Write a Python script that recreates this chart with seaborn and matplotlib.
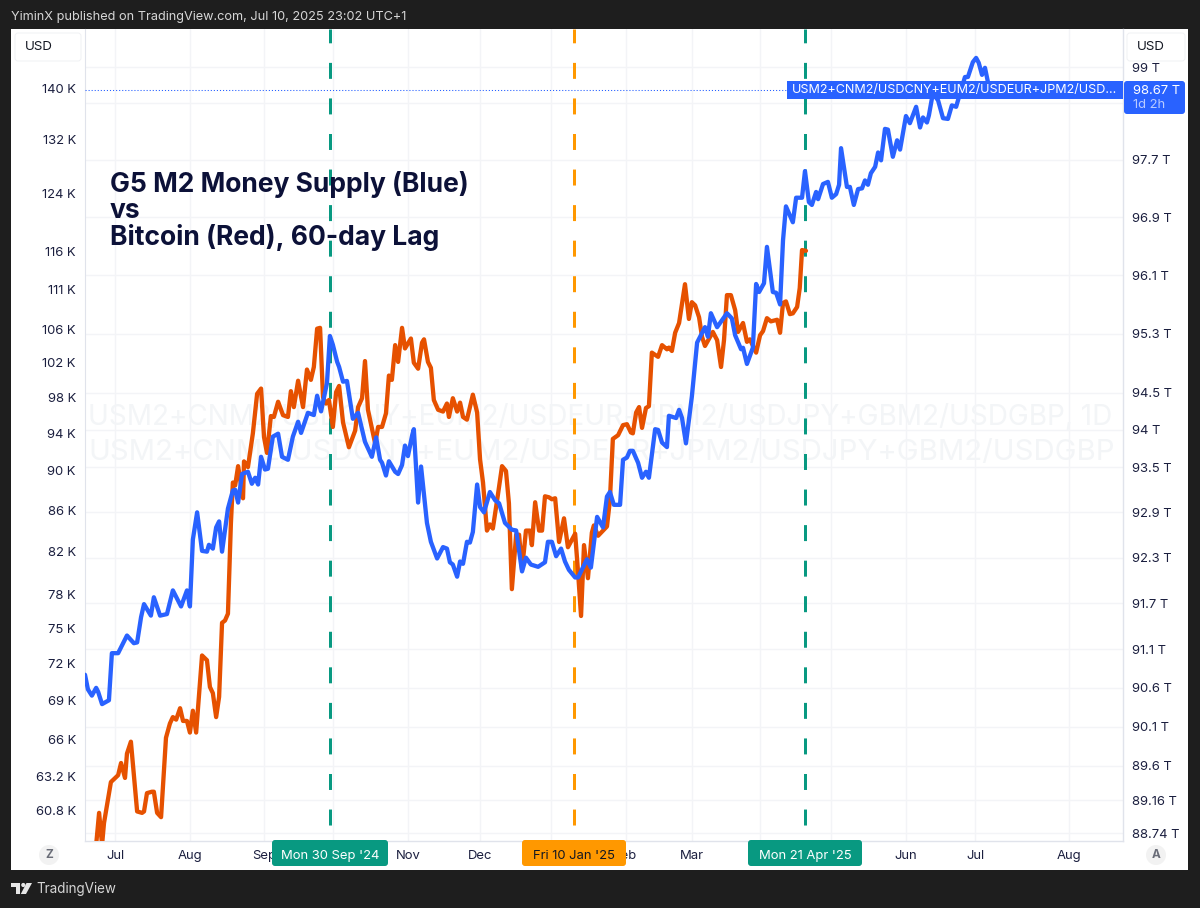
import matplotlib
matplotlib.use('Agg')
import matplotlib.pyplot as plt
from matplotlib.patches import Rectangle, FancyBboxPatch, Circle, Polygon
from matplotlib.ticker import FixedLocator, FixedFormatter, NullLocator
import seaborn as sns

# G5 M2 (T USD), x is the trading session counted from the left edge
m2_sessions = [0, 0.9, 2.1, 3.4, 4.0, 5.2, 7.3, 8.2, 10.1, 12.8, 14.9, 15.9, 17.1, 18.0, 20.1, 21.0, 22.9, 25.0, 26.8, 29.3,
               31.1, 32.0, 32.9, 34.2, 35.7, 37.2, 37.8, 39.0, 40.0, 40.9, 41.8, 43.6, 45.1, 45.8, 46.7, 47.9, 49.7, 50.9, 51.9, 52.8,
               53.7, 54.9, 55.8, 57.3, 58.9, 60.1, 61.9, 63.4, 65.0, 65.9, 68.0, 69.8, 70.8, 72.0, 73.8, 74.7, 75.6, 76.9, 77.5, 78.7,
               79.9, 81.7, 83.3, 85.4, 87.5, 88.8, 90.0, 90.6, 91.8, 92.7, 94.6, 95.5, 96.7, 97.6, 98.5, 99.8, 100.3, 101.6, 102.5, 104.3,
               105.5, 107.4, 109.2, 110.4, 111.3, 112.2, 113.5, 114.4, 115.3, 116.5, 117.4, 118.3, 119.6, 120.5, 121.7, 123.5, 125.1, 126.3, 128.1, 130.2,
               131.5, 133.3, 134.5, 136.0, 138.2, 140.3, 141.2, 142.4, 143.7, 145.2, 146.4, 147.6, 149.5, 150.4, 153.1, 154.3, 156.2, 158.0, 159.2, 160.1,
               161.3, 163.2, 164.1, 165.3, 166.2, 167.1, 168.7, 169.9, 171.1, 172.0, 173.9, 174.8, 176.0, 177.5, 178.1, 180.3, 181.2, 182.1, 183.3, 185.1,
               186.7, 189.1, 190.0, 190.9, 192.8, 195.8, 197.3, 198.3, 200.1, 200.7, 201.9, 203.7, 204.7, 205.6, 207.1, 208.0, 209.8, 210.8, 212.0, 212.9,
               213.8, 215.9, 216.9, 218.7, 219.6, 220.8, 221.7, 223.0, 223.6, 225.1, 226.6, 227.8, 229.1, 230.0, 230.6, 232.4, 233.3, 234.5, 235.8, 237.0,
               237.9, 238.8, 239.7, 241.0, 241.9, 242.8, 244.0, 244.9, 246.4, 247.7, 248.6, 250.4, 251.6, 253.5, 254.7, 255.6, 256.8, 257.4, 258.6, 260.2,
               261.7, 263.2, 264.4, 265.7, 266.9, 268.4, 269.3, 270.8, 271.8, 272.6, 273.6, 274.5, 275.4, 276.3]
m2_values = [90.77, 90.58, 90.50, 90.60, 90.55, 90.39, 90.44, 91.05, 91.05, 91.28, 91.18, 91.19, 91.52, 91.69, 91.54, 91.78, 91.54, 91.56, 91.87, 91.66,
             91.87, 91.66, 92.54, 92.90, 92.39, 92.38, 92.47, 92.42, 92.70, 92.78, 92.38, 92.95, 93.19, 93.20, 93.03, 93.41, 93.44, 93.28, 93.36, 93.27,
             93.64, 93.47, 93.48, 93.91, 93.95, 93.64, 93.60, 93.91, 94.11, 93.96, 94.23, 94.20, 94.46, 94.25, 94.63, 95.27, 95.15, 94.92, 94.85, 94.65,
             94.66, 94.15, 94.23, 93.84, 93.64, 93.90, 93.60, 93.56, 93.39, 93.58, 93.44, 93.41, 93.53, 93.79, 93.65, 93.93, 94.01, 93.03, 93.51, 92.76,
             92.51, 92.29, 92.44, 92.42, 92.24, 92.21, 92.05, 92.25, 92.22, 92.51, 92.50, 92.64, 93.27, 92.97, 92.90, 93.17, 93.06, 93.02, 92.76, 92.67,
             92.66, 92.12, 92.30, 92.21, 92.18, 92.24, 92.51, 92.51, 92.32, 92.42, 92.25, 92.14, 92.04, 92.04, 92.28, 92.17, 92.84, 92.70, 93.11, 93.17,
             93.00, 93.00, 93.60, 93.63, 93.72, 93.72, 93.56, 93.36, 93.44, 93.36, 94.01, 94.00, 93.83, 93.77, 94.19, 94.16, 94.27, 94.16, 93.82, 94.45,
             95.18, 95.39, 95.26, 95.58, 95.39, 95.58, 95.51, 95.28, 95.09, 95.11, 94.89, 95.11, 95.98, 95.87, 95.99, 96.49, 95.87, 95.86, 95.70, 96.58,
             97.05, 96.83, 97.17, 97.17, 97.54, 97.11, 97.07, 97.25, 97.15, 97.36, 97.39, 97.17, 97.22, 97.35, 97.86, 97.32, 97.32, 97.07, 97.29, 97.30,
             97.41, 97.35, 97.51, 97.60, 97.80, 97.69, 98.13, 98.12, 97.74, 97.97, 97.84, 98.31, 98.21, 98.44, 98.15, 98.29, 98.22, 98.32, 98.63, 98.53,
             98.28, 98.27, 98.46, 98.44, 98.63, 98.86, 98.86, 99.07, 99.13, 99.06, 98.89, 98.99, 98.79, 98.67]

# Bitcoin shifted 60 days (K USD)
btc_sessions = [2.1, 3.4, 4.3, 5.2, 5.8, 7.9, 9.2, 10.1, 11.0, 12.2, 12.8, 14.0, 15.9, 17.4, 18.0, 18.9, 20.4, 21.0, 22.0, 23.2,
                24.7, 25.9, 26.8, 27.8, 29.0, 29.9, 31.1, 32.0, 32.9, 33.9, 35.7, 37.2, 38.1, 39.0, 40.0, 40.9, 41.8, 42.7, 43.6, 44.5,
                45.1, 45.8, 46.7, 48.2, 48.5, 49.7, 51.2, 52.5, 53.7, 54.6, 55.5, 56.7, 57.6, 58.9, 60.4, 61.9, 62.8, 63.7, 65.0, 66.5,
                67.7, 68.9, 69.8, 70.8, 71.7, 72.6, 73.5, 74.4, 75.6, 76.6, 77.5, 78.7, 80.5, 82.4, 83.3, 84.5, 85.4, 86.3, 88.5, 89.4,
                90.6, 91.8, 92.7, 93.6, 94.6, 95.5, 96.7, 97.6, 99.4, 100.3, 101.6, 102.8, 103.4, 104.6, 105.5, 106.4, 107.7, 109.2, 110.4, 111.0,
                112.2, 113.5, 114.4, 115.3, 116.5, 118.3, 119.6, 120.5, 121.4, 122.6, 123.5, 124.4, 125.7, 127.2, 128.4, 129.3, 130.2, 131.5, 132.4, 133.3,
                134.5, 135.7, 136.3, 137.3, 138.5, 139.4, 140.3, 141.5, 142.4, 143.4, 144.6, 146.1, 147.3, 149.5, 150.4, 151.3, 152.2, 153.4, 154.6, 155.2,
                156.5, 159.2, 160.1, 161.0, 162.6, 164.1, 165.3, 166.5, 167.1, 168.1, 169.0, 169.9, 171.1, 172.0, 172.9, 174.8, 176.0, 177.5, 178.1, 179.0,
                180.0, 181.2, 183.0, 184.2, 185.1, 186.1, 187.3, 188.2, 189.1, 191.5, 192.8, 194.0, 194.9, 195.8, 197.0, 198.3, 199.2, 200.7, 201.9, 202.8,
                204.7, 205.9, 206.8, 208.0, 209.2, 211.1, 212.0, 212.9, 213.8, 215.0, 215.9, 217.2, 218.0, 218.7, 219.9]
btc_values = [56.7, 58.4, 60.6, 58.4, 59.9, 62.8, 63.1, 63.3, 64.2, 63.1, 64.9, 65.8, 60.7, 60.6, 60.7, 62.0, 62.1, 62.1, 60.6, 60.3,
              66.1, 67.2, 67.7, 67.5, 68.4, 67.4, 67.4, 66.5, 68.2, 66.5, 72.7, 72.3, 70.1, 69.6, 67.7, 69.3, 75.5, 75.7, 76.3, 84.7,
              88.8, 88.5, 90.5, 87.2, 91.0, 90.4, 94.0, 98.4, 99.0, 93.6, 91.9, 95.9, 95.8, 97.5, 96.0, 95.8, 98.7, 96.9, 99.9, 96.9,
              101.2, 100.0, 101.5, 106.1, 106.2, 98.0, 97.3, 97.7, 94.7, 98.6, 99.3, 95.2, 92.5, 94.3, 96.9, 97.9, 102.2, 96.6, 92.9, 94.7,
              94.7, 96.2, 100.5, 100.0, 104.1, 102.1, 106.2, 103.7, 104.9, 102.0, 101.3, 104.4, 104.8, 102.1, 101.4, 97.7, 96.6, 96.4, 97.3, 95.8,
              97.9, 96.4, 97.4, 95.8, 95.5, 98.3, 96.3, 91.2, 88.8, 84.0, 84.6, 84.2, 87.0, 90.5, 90.0, 86.7, 78.5, 83.6, 83.6, 80.3,
              84.0, 84.0, 82.6, 86.8, 84.0, 84.0, 87.4, 87.3, 87.1, 87.2, 82.9, 85.2, 82.4, 83.7, 80.0, 76.1, 82.6, 79.5, 83.8, 84.5,
              83.5, 84.4, 87.0, 93.4, 93.8, 94.9, 95.0, 94.1, 94.0, 96.3, 96.9, 94.6, 96.8, 97.0, 103.2, 102.7, 104.1, 103.6, 103.8, 103.4,
              105.6, 106.8, 111.7, 107.3, 109.4, 109.0, 107.5, 105.1, 104.0, 105.7, 104.7, 101.5, 104.7, 110.3, 110.3, 108.4, 105.7, 106.8, 104.5, 104.8,
              103.2, 105.3, 105.8, 107.4, 107.0, 107.2, 105.6, 109.3, 109.5, 107.9, 108.0, 108.8, 111.2, 116.2, 116.1]

left_ticks = [140, 132, 124, 116, 111, 106, 102, 98, 94, 90, 86, 82, 78, 75, 72, 69, 66, 63.2, 60.8]
right_ticks = [99, 98.5, 97.7, 96.9, 96.1, 95.3, 94.5, 94, 93.5, 92.9, 92.3, 91.7, 91.1, 90.6, 90.1, 89.6, 89.16, 88.74]
right_labels = ['99 T', '', '97.7 T', '96.9 T', '96.1 T', '95.3 T', '94.5 T', '94 T', '93.5 T', '92.9 T', '92.3 T',
                '91.7 T', '91.1 T', '90.6 T', '90.1 T', '89.6 T', '89.16 T', '88.74 T']
month_sessions = [9.2, 32.0, 54.6, 75.6, 98.5, 120.5, 142.1, 165.0, 185.1, 205.9, 227.5, 250.4, 271.5, 300.1]
month_labels = ['Jul', 'Aug', 'Sep', '', 'Nov', 'Dec', '', 'Feb', 'Mar', '', '', 'Jun', 'Jul', 'Aug']
marker_sessions = [74.6, 149.1, 219.6]
marker_colors = ['#089981', '#ff9800', '#089981']
last_m2 = 98.67

W, H = 1200, 908
BLUE = '#2962ff'
RED = '#e65100'
GRID = '#f3f4f7'
INK = '#1b1f3f'

sns.set_style('white')
plt.rcParams['font.family'] = ['Inter', 'DejaVu Sans']
plt.rcParams['lines.scale_dashes'] = False

fig = plt.figure(figsize=(W / 100, H / 100), dpi=100, facecolor='#1e1e1e')


def px_box(x0, y0, x1, y1):
    return [x0 / W, 1 - y1 / H, (x1 - x0) / W, (y1 - y0) / H]


def px(x, y):
    return x / W, 1 - y / H


def rect(x0, y0, x1, y1, color, zorder=5):
    l, b, w, h = px_box(x0, y0, x1, y1)
    fig.add_artist(Rectangle((l, b), w, h, transform=fig.transFigure, facecolor=color, edgecolor='none', zorder=zorder))


def label(x, y, s, color='white', size=9.4, ha='left', zorder=6, **kw):
    fx, fy = px(x, y)
    fig.text(fx, fy, s, color=color, fontsize=size, ha=ha, va='center', zorder=zorder, **kw)


def pill(x0, y0, x1, y1, color, edge='none'):
    # rounded box in pixel units
    box = FancyBboxPatch((x0, H - y1), x1 - x0, y1 - y0, boxstyle='round,pad=0,rounding_size=3',
                         transform=None, facecolor=color, edgecolor=edge, linewidth=0.7, zorder=5)
    fig.add_artist(box)


rect(11, 29, 1188, 870, 'white', zorder=-5)

pos = px_box(85, 29, 1123, 841)

# base axes: right scale, grid and watermark
ax_m2 = fig.add_axes(pos, facecolor='white')
ax_m2.set_yscale('log')
ax_m2.set_xlim(0, 316.6)
ax_m2.set_ylim(88.64, 99.54)
ax_m2.yaxis.tick_right()
ax_m2.yaxis.set_major_locator(FixedLocator(right_ticks))
ax_m2.yaxis.set_major_formatter(FixedFormatter(right_labels))
ax_m2.yaxis.set_minor_locator(NullLocator())
ax_m2.xaxis.set_major_locator(FixedLocator(month_sessions))
ax_m2.xaxis.set_major_formatter(FixedFormatter(month_labels))
ax_m2.tick_params(axis='y', length=0, pad=6.5, labelsize=9.4, labelcolor=INK)
ax_m2.tick_params(axis='x', length=0, pad=6.2, labelsize=9.4, labelcolor=INK)
ax_m2.grid(True, color=GRID, linewidth=1.0)
ax_m2.set_axisbelow(True)
for side in ['top', 'left']:
    ax_m2.spines[side].set_visible(False)
for side in ['bottom', 'right']:
    ax_m2.spines[side].set_color('#e0e3eb')
    ax_m2.spines[side].set_linewidth(1.0)

ax_m2.text(0.003, 0.522, 'USM2+CNM2/USDCNY+EUM2/USDEUR+JPM2/USDJPY+GBM2/USDGBP, 1D', transform=ax_m2.transAxes,
           fontsize=20.1, color='#f3f5f7', ha='left', va='center', clip_on=True)
ax_m2.text(0.003, 0.479, 'USM2+CNM2/USDCNY+EUM2/USDEUR+JPM2/USDJPY+GBM2/USDGBP', transform=ax_m2.transAxes,
           fontsize=21.1, color='#f3f5f7', ha='left', va='center', clip_on=True)

# middle axes: left scale and Bitcoin
ax_btc = fig.add_axes(pos, sharex=ax_m2, facecolor='none')
ax_btc.set_yscale('log')
ax_btc.set_ylim(58.66, 150.06)
ax_btc.yaxis.set_major_locator(FixedLocator(left_ticks))
ax_btc.yaxis.set_major_formatter(FixedFormatter([f'{t:g} K' for t in left_ticks]))
ax_btc.yaxis.set_minor_locator(NullLocator())
ax_btc.tick_params(axis='y', length=0, pad=6.5, labelsize=9.4, labelcolor=INK)
ax_btc.tick_params(axis='x', length=0, labelbottom=False)
for side in ['top', 'right', 'bottom']:
    ax_btc.spines[side].set_visible(False)
ax_btc.spines['left'].set_color('#e0e3eb')

for s, c in zip(marker_sessions, marker_colors):
    ax_btc.axvline(s, color=c, linewidth=2.16, linestyle=(14.1, (11.5, 14.1)), dash_capstyle='butt')

sns.lineplot(x=btc_sessions, y=btc_values, color=RED, linewidth=3.1, estimator=None, sort=False, ax=ax_btc)

# top axes: M2 over everything else
ax_line = fig.add_axes(pos, sharex=ax_m2, sharey=ax_m2, facecolor='none')
sns.lineplot(x=m2_sessions, y=m2_values, color=BLUE, linewidth=3.1, estimator=None, sort=False, ax=ax_line)
ax_line.axhline(last_m2, xmax=(787 - 85) / 1038, color=BLUE, linewidth=0.75, linestyle=(0, (0.8, 1.4)))
ax_line.axis('off')

ax_btc.set_xlabel('')
ax_btc.set_ylabel('')
ax_m2.set_xlim(0, 316.6)

tx, ty = px(110, 211)
fig.text(tx, ty, 'G5 M2 Money Supply (Blue)\nvs\nBitcoin (Red), 60-day Lag', fontsize=19.05, fontweight='bold',
         color='#0c1138', ha='left', va='center', linespacing=1.0, zorder=4)

# last value labels
rect(787, 81, 1123, 99, BLUE)
label(792, 90.5, 'USM2+CNM2/USDCNY+EUM2/USDEUR+JPM2/USD...', size=9.07)
pill(1124, 81, 1185, 114, BLUE)
label(1133, 90.5, '98.67 T', size=9.4)
label(1133, 105, '1d 2h', color='#b9cbff', size=9.4)

# currency boxes
pill(15, 33, 81, 61, 'white', edge='#f0f1f4')
label(25, 47, 'USD', color='#131722', size=9.6)
pill(1127, 33, 1185, 61, 'white', edge='#f0f1f4')
label(1137, 47, 'USD', color='#131722', size=9.6)

# date tags on the time scale
for x0, x1, c, tc, s in [(272, 388, '#089981', 'white', "Mon 30 Sep '24"),
                         (522, 626, '#ff9800', '#131722', "Fri 10 Jan '25"),
                         (748, 862, '#089981', 'white', "Mon 21 Apr '25")]:
    pill(x0, 840, x1, 866, c)
    label((x0 + x1) / 2, 856, s, color=tc, ha='center')

# round buttons in the time scale corners
for cx, s in [(49, 'Z'), (1156, 'A')]:
    fig.add_artist(Circle((cx, H - 855), 10, transform=None, facecolor='#f2f2f2', edgecolor='none', zorder=5))
    label(cx, 855.5, s, color='#6a6d78', ha='center', size=8.5, fontweight='bold')

# header and footer
label(11, 17, 'YiminX published on TradingView.com, Jul 10, 2025 23:02 UTC+1', color='#d6d6d6', size=9.18)
label(36, 889.5, 'TradingView', color='#d6d6d6', size=9.7)
rect(11, 883, 20, 887, '#e6e6e6')
rect(15.5, 883, 20, 894, '#e6e6e6')
fig.add_artist(Circle((23.3, H - 885), 2.1, transform=None, facecolor='#e6e6e6', edgecolor='none', zorder=5))
fig.add_artist(Polygon([(26.5, H - 883), (32, H - 883), (26, H - 894), (20.8, H - 894)], closed=True, transform=None,
                       facecolor='#e6e6e6', edgecolor='none', zorder=5))

fig.savefig('out.png', dpi=100, facecolor=fig.get_facecolor())
